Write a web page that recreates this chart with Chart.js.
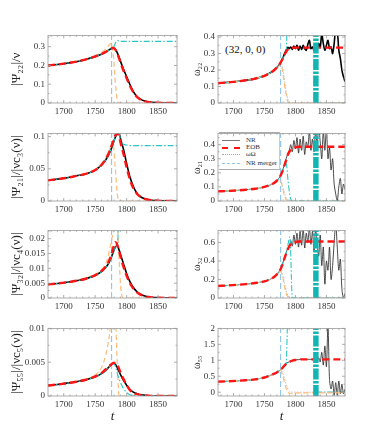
<!DOCTYPE html>
<html>
<head>
<meta charset="utf-8">
<script src="https://cdn.jsdelivr.net/npm/chart.js@4.4.0/dist/chart.umd.min.js"></script>
<style>
  html, body { margin: 0; padding: 0; background: #fff; }
  body { width: 382px; height: 446px; position: relative; overflow: hidden; font-family: 'Liberation Serif', 'DejaVu Serif', serif; }
  canvas { position: absolute; }
  .note { position: absolute; color: #111; white-space: nowrap; }
  #legend { position: absolute; left: 219px; top: 132px; width: 60px; height: 36px; background: #fff;
            border-top: 1px solid #aaa; border-bottom: 1px solid #aaa; border-right: 1px solid #ccc; }
  #legend .row { position: absolute; left: 0; height: 8px; font-size: 7px; line-height: 8px; color: #333; }
  #legend .smp { position: absolute; left: 3px; top: 4px; width: 18px; height: 0; }
  #legend .lbl { position: absolute; left: 27px; top: 0; white-space: nowrap; }
</style>
</head>
<body>

<div class="note" style="left:225px; top:43px; font-size:11px;">(32, 0, 0)</div>

<div id="legend">
  <div class="row" style="top:3px"><span class="smp" style="border-top:1px solid #777"></span><span class="lbl">NR</span></div>
  <div class="row" style="top:10px"><span class="smp" style="border-top:2px dashed #ff1414"></span><span class="lbl">EOB</span></div>
  <div class="row" style="top:17px"><span class="smp" style="border-top:1px dotted #aaa"></span><span class="lbl">ωΩ</span></div>
  <div class="row" style="top:26px"><span class="smp" style="border-top:1px dashed #93c6ea"></span><span class="lbl">NR merger</span></div>
</div>

<script>
// time samples shared by the smooth curves
const tGrid = [1675, 1690, 1705, 1720, 1735, 1750, 1760, 1766, 1770, 1773, 1776, 1779, 1782, 1785, 1788,
               1791, 1795, 1800, 1805, 1810, 1815, 1820, 1830, 1840, 1850, 1865, 1880];

// finer samples for the oscillating NR frequencies
const tOmegaNR = [1675, 1690, 1705, 1720, 1735, 1750, 1760, 1766, 1770, 1773, 1776, 1779, 1782, 1785, 1788,
                  1790, 1792.5, 1795, 1797.5, 1800, 1802.5, 1805, 1807.5, 1810, 1812.5, 1815, 1817.5, 1820,
                  1822.5, 1825, 1827.5, 1830, 1832.5, 1835, 1837.5, 1840, 1842.5, 1845, 1847.5, 1850, 1852.5,
                  1855, 1857.5, 1860, 1862.5, 1865, 1867.5, 1870, 1872.5, 1875, 1877.5, 1880];

const tMerger = 1776;
const tCyanBand = 1833;
const cyanTailT = [1833, 1880];
const cyanTailY = [0, 0];

const xTicks = [1700, 1750, 1800, 1850];

// |Psi_22| / nu
const psi22NR     = [0.200, 0.205, 0.212, 0.220, 0.232, 0.247, 0.260, 0.270, 0.278, 0.285, 0.290, 0.293, 0.286, 0.268, 0.244,
                     0.215, 0.180, 0.140, 0.100, 0.065, 0.040, 0.025, 0.009, 0.004, 0.001, 0, 0];
const psi22EOB    = [0.200, 0.205, 0.212, 0.220, 0.232, 0.248, 0.261, 0.271, 0.279, 0.286, 0.291, 0.293, 0.284, 0.264, 0.238,
                     0.208, 0.172, 0.132, 0.093, 0.060, 0.037, 0.022, 0.008, 0.003, 0.001, 0, 0];
const psi22Orange = [0.200, 0.205, 0.212, 0.221, 0.234, 0.252, 0.268, 0.285, 0.300, 0.313, 0.318, 0.250, 0.110, 0.015, 0,
                     0, 0, 0, 0, 0, 0, 0, 0, 0, 0, 0, 0];
const psi22Cyan   = [0.200, 0.205, 0.212, 0.220, 0.232, 0.247, 0.260, 0.270, 0.278, 0.285, 0.290, 0.295, 0.318, 0.334, 0.330,
                     0.328, 0.328, 0.328, 0.328, 0.328, 0.328, 0.328, 0.328, 0.328, 0.328, 0.328, 0.328];

// |Psi_21| / |nu c3(nu)|
const psi21NR     = [0.032, 0.034, 0.036, 0.039, 0.042, 0.048, 0.056, 0.063, 0.069, 0.075, 0.082, 0.091, 0.099, 0.104, 0.104,
                     0.094, 0.080, 0.058, 0.038, 0.024, 0.014, 0.008, 0.003, 0.0012, 0.0005, 0.0002, 0];
const psi21EOB    = [0.032, 0.034, 0.036, 0.039, 0.042, 0.048, 0.056, 0.064, 0.071, 0.078, 0.086, 0.094, 0.102, 0.105, 0.100,
                     0.088, 0.073, 0.052, 0.034, 0.021, 0.013, 0.008, 0.003, 0.001, 0.0004, 0.0001, 0];
const psi21Orange = [0.032, 0.034, 0.036, 0.039, 0.043, 0.049, 0.058, 0.066, 0.073, 0.080, 0.086, 0.086, 0.050, 0.012, 0,
                     0, 0, 0, 0, 0, 0, 0, 0, 0, 0, 0, 0];
const psi21Cyan   = [0.032, 0.034, 0.036, 0.039, 0.042, 0.048, 0.056, 0.063, 0.069, 0.075, 0.082, 0.091, 0.099, 0.104, 0.104,
                     0.092, 0.088, 0.087, 0.086, 0.086, 0.086, 0.086, 0.086, 0.086, 0.086, 0.086, 0.086];

// |Psi_32| / |nu c4(nu)|
const psi32NR     = [0.0046, 0.0049, 0.0053, 0.0058, 0.0065, 0.0076, 0.0089, 0.0101, 0.0112, 0.0124, 0.0139, 0.0157, 0.0172, 0.0176, 0.0162,
                     0.0142, 0.0115, 0.0082, 0.0056, 0.0037, 0.0024, 0.0015, 0.0006, 0.0002, 0.0001, 0, 0];
const psi32EOB    = [0.0046, 0.0049, 0.0053, 0.0058, 0.0065, 0.0077, 0.0091, 0.0104, 0.0117, 0.0131, 0.0148, 0.0172, 0.0188, 0.0180, 0.0158,
                     0.0134, 0.0105, 0.0075, 0.0051, 0.0034, 0.0022, 0.0014, 0.0005, 0.0002, 0.0001, 0, 0];
const psi32Orange = [0.0046, 0.0049, 0.0053, 0.0059, 0.0067, 0.0080, 0.0096, 0.0113, 0.0135, 0.0165, 0.0195, 0.0225, 0.0250, 0.0245, 0.0130,
                     0.0025, 0, 0, 0, 0, 0, 0, 0, 0, 0, 0, 0];
const psi32Cyan   = [0.0046, 0.0049, 0.0053, 0.0058, 0.0065, 0.0076, 0.0089, 0.0101, 0.0112, 0.0124, 0.0139, 0.0157, 0.0172, 0.0176, 0.0300,
                     0.0500, null, null, null, null, null, null, null, null, null, null, null];

// |Psi_55| / |nu c5(nu)|
const psi55NR     = [0.00155, 0.0017, 0.0019, 0.0021, 0.0024, 0.0028, 0.0033, 0.0037, 0.0041, 0.0044, 0.0047, 0.0048, 0.0047, 0.0042, 0.0036,
                     0.0030, 0.0023, 0.0016, 0.0010, 0.0006, 0.0004, 0.0002, 0.0001, 0, 0, 0, 0];
const psi55EOB    = [0.00155, 0.0017, 0.0019, 0.0021, 0.0024, 0.0029, 0.0034, 0.0039, 0.0042, 0.0045, 0.0047, 0.0049, 0.0049, 0.0046, 0.0040,
                     0.0033, 0.0025, 0.0016, 0.0009, 0.0005, 0.0003, 0.0002, 0.0001, 0, 0, 0, 0];
const psi55Orange = [0.00155, 0.0017, 0.0019, 0.0022, 0.0025, 0.0031, 0.0042, 0.0058, 0.0075, 0.0093, 0.0120, 0.0140, 0.0120, 0.0050, 0,
                     0, 0, 0, 0, 0, 0, 0, 0, 0, 0, 0, 0];
const psi55Cyan   = [0.00155, 0.0017, 0.0019, 0.0021, 0.0024, 0.0028, 0.0033, 0.0037, 0.0041, 0.0044, 0.0047, 0.0048, 0.0044, 0.0034, 0.0025,
                     0.0018, 0.0011, 0.0005, 0.0002, 0.0001, 0, 0, 0, 0, 0, 0, 0];

// omega_22
const omega22NR     = [0.120, 0.125, 0.130, 0.138, 0.148, 0.165, 0.185, 0.200, 0.215, 0.228, 0.245, 0.266, 0.295, 0.320, 0.338,
                       0.330, 0.340, 0.325, 0.345, 0.330, 0.350, 0.320, 0.345, 0.325, 0.350, 0.330, 0.320, 0.355, 0.380, 0.330,
                       0.340, 0.320, 0.350, 0.330, 0.360, 0.340, 0.420, 0.360, 0.320, 0.350, 0.380, 0.330, 0.340, 0.300, 0.360,
                       0.450, 0.440, 0.320, 0.270, 0.200, 0.160, 0.130];
const omega22EOB    = [0.120, 0.125, 0.130, 0.138, 0.148, 0.165, 0.185, 0.200, 0.215, 0.228, 0.245, 0.265, 0.290, 0.310, 0.325,
                       0.332, 0.335, 0.336, 0.336, 0.336, 0.336, 0.336, 0.336, 0.336, 0.336, 0.336, 0.336];
const omega22Orange = [0.120, 0.125, 0.130, 0.138, 0.148, 0.165, 0.184, 0.198, 0.212, 0.224, 0.240, 0.200, 0.120, 0.050, 0.005,
                       0, 0, 0, 0, 0, 0, 0, 0, 0, 0, 0, 0];
const omega22Dot    = [0.120, 0.125, 0.130, 0.138, 0.148, 0.165, 0.184, 0.199, 0.213, 0.226, 0.242, 0.220, 0.150, 0.070, 0.020,
                       0.003, 0, 0, 0, 0, 0, 0, 0, 0, 0, 0, 0];
const omega22Cyan   = [0.120, 0.125, 0.130, 0.138, 0.148, 0.165, 0.185, 0.200, 0.215, 0.228, 0.245, 0.265, 0.290, 0.310, 0.800,
                       null, null, null, null, null, null, null, null, null, null, null, null];

// omega_21
const omega21NR     = [0.068, 0.071, 0.075, 0.080, 0.087, 0.100, 0.115, 0.130, 0.145, 0.160, 0.180, 0.212, 0.255, 0.300, 0.340,
                       0.360, 0.400, 0.350, 0.430, 0.370, 0.450, 0.340, 0.440, 0.360, 0.460, 0.330, 0.420, 0.380, 0.500, 0.360,
                       0.440, 0.350, 0.500, 0.400, 0.520, 0.420, 0.300, 0.500, 0.360, 0.520, 0.300, 0.380, 0.220, 0.300, 0.120,
                       0.050, 0.000, 0.100, 0.160, 0.050, 0.120, 0.080];
const omega21EOB    = [0.068, 0.071, 0.075, 0.080, 0.087, 0.100, 0.115, 0.130, 0.145, 0.160, 0.180, 0.210, 0.250, 0.290, 0.330,
                       0.355, 0.370, 0.380, 0.385, 0.385, 0.385, 0.385, 0.385, 0.385, 0.385, 0.385, 0.385];
const omega21Orange = [0.068, 0.071, 0.075, 0.080, 0.087, 0.100, 0.115, 0.125, 0.135, 0.140, 0.138, 0.100, 0.040, 0.010, 0.002,
                       0, 0, 0, 0, 0, 0, 0, 0, 0, 0, 0, 0];
const omega21Dot    = [0.068, 0.071, 0.075, 0.080, 0.087, 0.100, 0.115, 0.125, 0.135, 0.141, 0.142, 0.110, 0.060, 0.020, 0.008,
                       0.003, 0.001, 0, 0, 0, 0, 0, 0, 0, 0, 0, 0];
const omega21Cyan   = [0.068, 0.071, 0.075, 0.080, 0.087, 0.100, 0.115, 0.130, 0.145, 0.160, 0.180, 0.210, 0.250, 0.270, 0.150,
                       0.040, 0, 0, 0, 0, 0, 0, 0, 0, 0, 0, 0];

// omega_32
const omega32NR     = [0.130, 0.135, 0.142, 0.150, 0.162, 0.180, 0.205, 0.230, 0.255, 0.280, 0.312, 0.365, 0.430, 0.490, 0.540,
                       0.550, 0.620, 0.560, 0.680, 0.580, 0.700, 0.550, 0.720, 0.570, 0.750, 0.540, 0.700, 0.600, 0.760, 0.580,
                       0.720, 0.500, 0.740, 0.600, 0.450, 0.680, 0.350, 0.550, 0.150, 0.400, 0.300, 0.550, 0.200, 0.350, 0.600,
                       0.800, 0.550, 0.300, 0.420, 0.100, 0.000, 0.050];
const omega32EOB    = [0.130, 0.135, 0.142, 0.150, 0.162, 0.180, 0.205, 0.230, 0.255, 0.280, 0.310, 0.360, 0.420, 0.480, 0.530,
                       0.570, 0.595, 0.605, 0.610, 0.610, 0.610, 0.610, 0.610, 0.610, 0.610, 0.610, 0.610];
const omega32Orange = [0.130, 0.135, 0.142, 0.150, 0.162, 0.180, 0.203, 0.225, 0.248, 0.270, 0.285, 0.240, 0.140, 0.050, 0.010,
                       0, 0, 0, 0, 0, 0, 0, 0, 0, 0, 0, 0];
const omega32Dot    = [0.130, 0.135, 0.142, 0.150, 0.162, 0.180, 0.203, 0.225, 0.248, 0.270, 0.290, 0.260, 0.170, 0.080, 0.025,
                       0.006, 0.001, 0, 0, 0, 0, 0, 0, 0, 0, 0, 0];
const omega32Cyan   = [0.130, 0.135, 0.142, 0.150, 0.162, 0.180, 0.205, 0.230, 0.255, 0.280, 0.310, 0.360, 0.420, 0.480, 0.580,
                       0.660, 0, 0, 0, 0, 0, 0, 0, 0, 0, 0, 0];

// omega_55
const omega55NR     = [0.330, 0.340, 0.355, 0.375, 0.400, 0.460, 0.530, 0.580, 0.620, 0.660, 0.700, 0.765, 0.840, 0.900, 0.935,
                       0.950, 0.970, 0.990, 1.000, 1.010, 1.020, 1.020, 1.030, 1.030, 1.030, 1.030, 1.030, 1.030, 1.030, 1.030,
                       1.020, 1.030, 1.040, 1.000, 1.080, 0.950, 1.250, 0.850, 1.450, 0.800, 2.100, 0.400, 0.100, 0.350, -0.100,
                       0.300, -0.100, 0.350, -0.050, 0.250, -0.050, 0.100];
const omega55EOB    = [0.330, 0.340, 0.355, 0.375, 0.400, 0.460, 0.530, 0.580, 0.620, 0.660, 0.700, 0.760, 0.830, 0.890, 0.930,
                       0.960, 0.990, 1.010, 1.020, 1.030, 1.030, 1.030, 1.030, 1.030, 1.030, 1.030, 1.030];
const omega55Orange = [0.330, 0.340, 0.355, 0.375, 0.400, 0.460, 0.530, 0.575, 0.612, 0.650, 0.690, 0.550, 0.320, 0.120, 0.000,
                       -0.040, -0.050, -0.030, -0.020, -0.020, -0.020, -0.020, -0.020, -0.020, -0.020, -0.020, -0.020];
const omega55Dot    = [0.330, 0.340, 0.355, 0.375, 0.400, 0.460, 0.530, 0.575, 0.612, 0.650, 0.700, 0.620, 0.450, 0.250, 0.100,
                       0.020, 0, 0, 0, 0, 0, 0, 0, 0, 0, 0, 0];
const omega55Cyan   = [0.330, 0.340, 0.355, 0.375, 0.400, 0.460, 0.530, 0.580, 0.620, 0.660, 0.700, 0.760, 0.830, 0.890, 3.000,
                       null, null, null, null, null, null, null, null, null, null, null, null];

// ---------- styles ----------
const serif = "'Liberation Serif', 'DejaVu Serif', serif";
const tickFont = { family: serif, size: 9 };

const NR_THICK = { borderColor: '#000', borderWidth: 1.6 };
const NR_THIN  = { borderColor: '#1e1e1e', borderWidth: 0.8, cubicInterpolationMode: 'default', tension: 0.3 };
const EOB      = { borderColor: '#ff1414', borderWidth: 2.4, borderDash: [7, 4] };
const ORANGE   = { borderColor: '#ffbb77', borderWidth: 1.2, borderDash: [5, 3] };
const DOTTED   = { borderColor: '#bdbdbd', borderWidth: 1, borderDash: [1.5, 1.5] };
const CYAN     = { borderColor: '#2cc6c6', borderWidth: 1.1, borderDash: [6, 2, 1.5, 2] };
const MERGER   = { borderColor: '#93c6ea', borderWidth: 1.2, borderDash: [6, 3], tension: 0, cubicInterpolationMode: 'default' };
const BAND     = { borderColor: '#12b4b4', borderWidth: 5.5, borderDash: [11, 1.5, 2.5, 1.5], tension: 0, cubicInterpolationMode: 'default' };

function toPoints(ts, vs) {
  return ts.map((t, i) => ({ x: t, y: vs[i] }));
}

function line(ts, vs, style) {
  return Object.assign({
    data: toPoints(ts, vs),
    pointRadius: 0,
    fill: false,
    clip: 0,
    spanGaps: false,
    cubicInterpolationMode: 'monotone'
  }, style);
}

// vertical marker spanning the whole y range
function vertical(t, lo, hi, style) {
  return line([t, t], [lo, hi], style);
}

/**
 * Frame around the plot area with small inward ticks, like the original figure
 */
const framePlugin = {
  id: 'frame',
  afterDatasetsDraw(chart) {
    const { ctx, chartArea: a, scales: { x, y } } = chart;
    const yTicks = chart.options.yMajor;
    ctx.save();
    ctx.strokeStyle = '#9a9a9a';
    ctx.lineWidth = 0.8;
    ctx.strokeRect(a.left, a.top, a.right - a.left, a.bottom - a.top);
    ctx.beginPath();
    // x ticks, major and minor
    for (let v = 1680; v <= 1880; v += 10) {
      const px = x.getPixelForValue(v);
      const len = xTicks.includes(v) ? 3 : 1.5;
      ctx.moveTo(px, a.bottom); ctx.lineTo(px, a.bottom - len);
      ctx.moveTo(px, a.top); ctx.lineTo(px, a.top + len);
    }
    // y ticks, major plus halfway minor
    const step = yTicks[1] - yTicks[0];
    yTicks.forEach(v => {
      [v, v + step / 2].forEach((w, k) => {
        if (w > y.max) return;
        const py = y.getPixelForValue(w);
        const len = k === 0 ? 3 : 1.5;
        ctx.moveTo(a.left, py); ctx.lineTo(a.left + len, py);
        ctx.moveTo(a.right, py); ctx.lineTo(a.right - len, py);
      });
    });
    ctx.stroke();
    ctx.restore();
  }
};

function makePanel(p) {
  const c = document.createElement('canvas');
  c.width = p.w;
  c.height = 6 + 70 + p.xH;
  c.style.left = p.left + 'px';
  c.style.top = (p.top - 6) + 'px';
  document.body.appendChild(c);

  new Chart(c, {
    type: 'line',
    data: { datasets: p.datasets },
    options: {
      responsive: false,
      animation: false,
      devicePixelRatio: 1,
      yMajor: p.yTicks,
      layout: { padding: { top: 6, right: p.padRight, left: 0, bottom: 0 } },
      plugins: { legend: { display: false }, tooltip: { enabled: false } },
      scales: {
        x: {
          type: 'linear', min: 1675, max: 1880,
          grid: { display: false, drawTicks: false }, border: { display: false },
          afterBuildTicks: s => { s.ticks = xTicks.map(v => ({ value: v })); },
          afterFit: s => { s.height = p.xH; },
          ticks: { font: tickFont, color: '#333', padding: 3, maxRotation: 0, autoSkip: false, callback: v => String(v) },
          title: p.xTitle
            ? { display: true, text: 't', color: '#222', font: { family: serif, size: 13, style: 'italic' }, padding: { top: 0, bottom: 2 } }
            : { display: false }
        },
        y: {
          type: 'linear', min: p.yMin, max: p.yMax,
          grid: { display: false, drawTicks: false }, border: { display: false },
          afterBuildTicks: s => { s.ticks = p.yTicks.map(v => ({ value: v })); },
          afterFit: s => { s.width = p.yW; },
          ticks: { font: tickFont, color: '#333', padding: 3, callback: v => String(v) },
          title: { display: true, text: p.yTitle, color: '#222', font: { family: serif, size: p.titleSize }, padding: { top: p.titlePad, bottom: 0 } }
        }
      }
    },
    plugins: [framePlugin]
  });
}

const rowTops = [33, 131, 228, 326];

function leftPanel(row, title, yMin, yMax, yTicks, nr, eob, orange, cyan) {
  makePanel({
    left: 0, w: 181, padRight: 4, yW: 48, top: rowTops[row], xH: row === 3 ? 30 : 16, xTitle: row === 3,
    yMin, yMax, yTicks, yTitle: title, titleSize: 13, titlePad: 9,
    datasets: [
      line(tGrid, eob, EOB),
      line(tGrid, cyan, CYAN),
      line(tGrid, nr, NR_THICK),
      line(tGrid, orange, ORANGE),
      vertical(tMerger, yMin, yMax, MERGER)
    ]
  });
}

function rightPanel(row, title, yMin, yMax, yTicks, nr, eob, orange, dot, cyan, withTail) {
  const ds = [
    vertical(tCyanBand, yMin, yMax, BAND),
    line(tGrid, eob, EOB),
    line(tGrid, cyan, CYAN),
    line(tGrid, orange, ORANGE),
    line(tGrid, dot, DOTTED),
    line(tOmegaNR, nr, row === 0 ? Object.assign({}, NR_THICK, { cubicInterpolationMode: 'default', tension: 0.3 }) : NR_THIN),
    vertical(tMerger, yMin, yMax, MERGER)
  ];
  if (withTail) ds.push(line(cyanTailT, cyanTailY, CYAN));
  makePanel({
    left: 186, w: 162, padRight: 3, yW: 32, top: rowTops[row], xH: row === 3 ? 30 : 16, xTitle: row === 3,
    yMin, yMax, yTicks, yTitle: title, titleSize: 10, titlePad: 5,
    datasets: ds
  });
}

leftPanel(0, '|Ψ₂₂|/ν', 0, 0.36, [0, 0.1, 0.2, 0.3], psi22NR, psi22EOB, psi22Orange, psi22Cyan);
leftPanel(1, '|Ψ₂₁|/|νc₃(ν)|', 0, 0.105, [0, 0.05, 0.1], psi21NR, psi21EOB, psi21Orange, psi21Cyan);
leftPanel(2, '|Ψ₃₂|/|νc₄(ν)|', 0, 0.0228, [0, 0.005, 0.01, 0.015, 0.02], psi32NR, psi32EOB, psi32Orange, psi32Cyan);
leftPanel(3, '|Ψ₅₅|/|νc₅(ν)|', 0, 0.01, [0, 0.005, 0.01], psi55NR, psi55EOB, psi55Orange, psi55Cyan);

rightPanel(0, 'ω₂₂', 0, 0.41, [0, 0.1, 0.2, 0.3, 0.4], omega22NR, omega22EOB, omega22Orange, omega22Dot, omega22Cyan, true);
rightPanel(1, 'ω₂₁', 0, 0.48, [0, 0.1, 0.2, 0.3, 0.4], omega21NR, omega21EOB, omega21Orange, omega21Dot, omega21Cyan, false);
rightPanel(2, 'ω₃₂', 0, 0.73, [0, 0.2, 0.4, 0.6], omega32NR, omega32EOB, omega32Orange, omega32Dot, omega32Cyan, false);
rightPanel(3, 'ω₅₅', -0.12, 2, [0, 0.5, 1, 1.5, 2], omega55NR, omega55EOB, omega55Orange, omega55Dot, omega55Cyan, true);
</script>
</body>
</html>
